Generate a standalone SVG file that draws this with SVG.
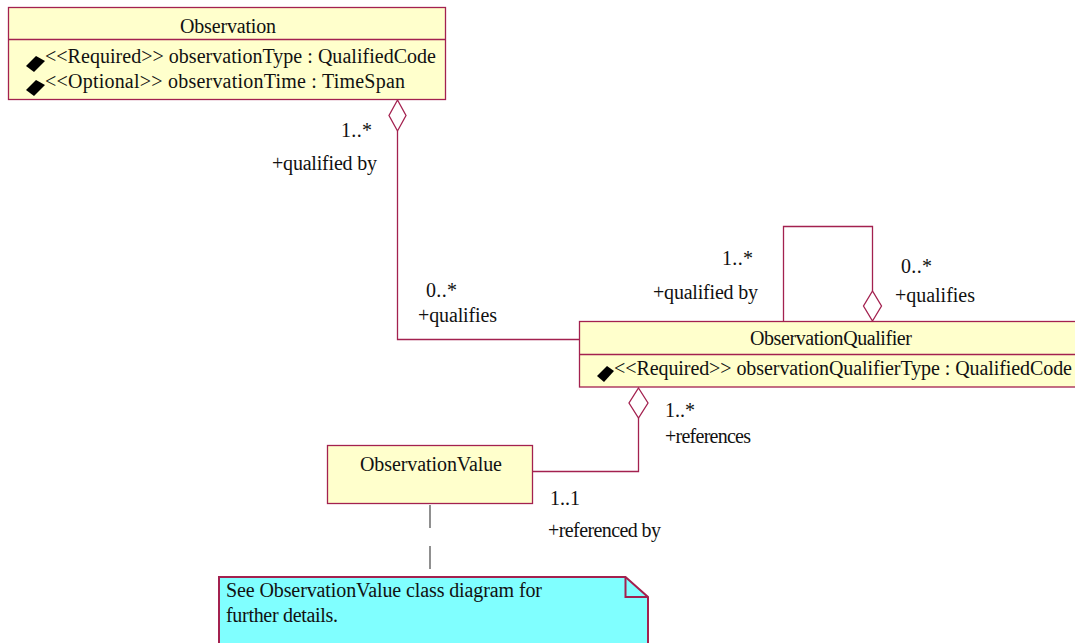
<svg xmlns="http://www.w3.org/2000/svg" width="1075" height="643" viewBox="0 0 1075 643">
<style>
.cls{fill:#FFFFCC;stroke:#A3214F;stroke-width:1.3}
.note{fill:#80FFFF;stroke:#A3214F;stroke-width:2}
.ln{fill:none;stroke:#A3214F;stroke-width:1.3}
.dia{fill:#FFFFFF;stroke:#A3214F;stroke-width:1.3}
.dash{fill:none;stroke:#555555;stroke-width:1.3;stroke-dasharray:23 18}
.icon{fill:#000000}
text{font-family:"Liberation Serif","Times New Roman",serif;font-size:20px;fill:#111111}
</style>
<rect width="1075" height="643" fill="#FFFFFF"/>
<g id="connectors">
  <polyline class="ln" points="397.5,131 397.5,339.5 579,339.5"/>
  <polygon class="dia" points="397.5,100 406,115.5 397.5,131 389,115.5"/>
  <polyline class="ln" points="783.5,321 783.5,226.5 872.5,226.5 872.5,291"/>
  <polygon class="dia" points="872.5,321 881.5,306 872.5,291 863.5,306"/>
  <polyline class="ln" points="638.5,418 638.5,471.5 533,471.5"/>
  <polygon class="dia" points="638.5,388 648,403 638.5,418 629,403"/>
  <line class="dash" x1="430" y1="505" x2="430" y2="570"/>
  <text x="341" y="137" textLength="31">1..*</text>
  <text x="272" y="170" textLength="105">+qualified by</text>
  <text x="426" y="297" textLength="31">0..*</text>
  <text x="418" y="322" textLength="79">+qualifies</text>
  <text x="722" y="265" textLength="31">1..*</text>
  <text x="653" y="299" textLength="105">+qualified by</text>
  <text x="901" y="273" textLength="31">0..*</text>
  <text x="895" y="302" textLength="80">+qualifies</text>
  <text x="665" y="417" textLength="30">1..*</text>
  <text x="665" y="443" textLength="86">+references</text>
  <text x="550" y="505" textLength="30">1..1</text>
  <text x="548" y="537" textLength="113">+referenced by</text>
</g>
<g id="Observation">
  <rect class="cls" x="8.5" y="7.5" width="437" height="92"/>
  <line class="ln" x1="8.5" y1="39.5" x2="445.5" y2="39.5"/>
  <text x="180" y="33" textLength="96">Observation</text>
  <polygon class="icon" points="26,66 36,56 45,61 34,72"/>
  <text x="45" y="63" textLength="391">&lt;&lt;Required&gt;&gt; observationType : QualifiedCode</text>
  <polygon class="icon" points="26,90 36,80 45,85 34,96"/>
  <text x="45" y="88" textLength="360">&lt;&lt;Optional&gt;&gt; observationTime : TimeSpan</text>
</g>
<g id="ObservationQualifier">
  <rect class="cls" x="579.5" y="321.5" width="520" height="65.5"/>
  <line class="ln" x1="579.5" y1="354.5" x2="1075" y2="354.5"/>
  <text x="750" y="345" textLength="162">ObservationQualifier</text>
  <polygon class="icon" points="597,376 607,366 614,371 604,382"/>
  <text x="614" y="375" textLength="458">&lt;&lt;Required&gt;&gt; observationQualifierType : QualifiedCode</text>
</g>
<g id="ObservationValue">
  <rect class="cls" x="327.5" y="445.5" width="205" height="58"/>
  <text x="360" y="471" textLength="142">ObservationValue</text>
</g>
<g id="Note">
  <path class="note" d="M219,577 H625.5 L648,597 V660 H219 Z"/>
  <polyline class="ln" points="625.5,577 625.5,597 648,597" style="stroke-width:2"/>
  <text x="226" y="597" textLength="316">See ObservationValue class diagram for</text>
  <text x="226" y="622" textLength="112">further details.</text>
</g>
</svg>
